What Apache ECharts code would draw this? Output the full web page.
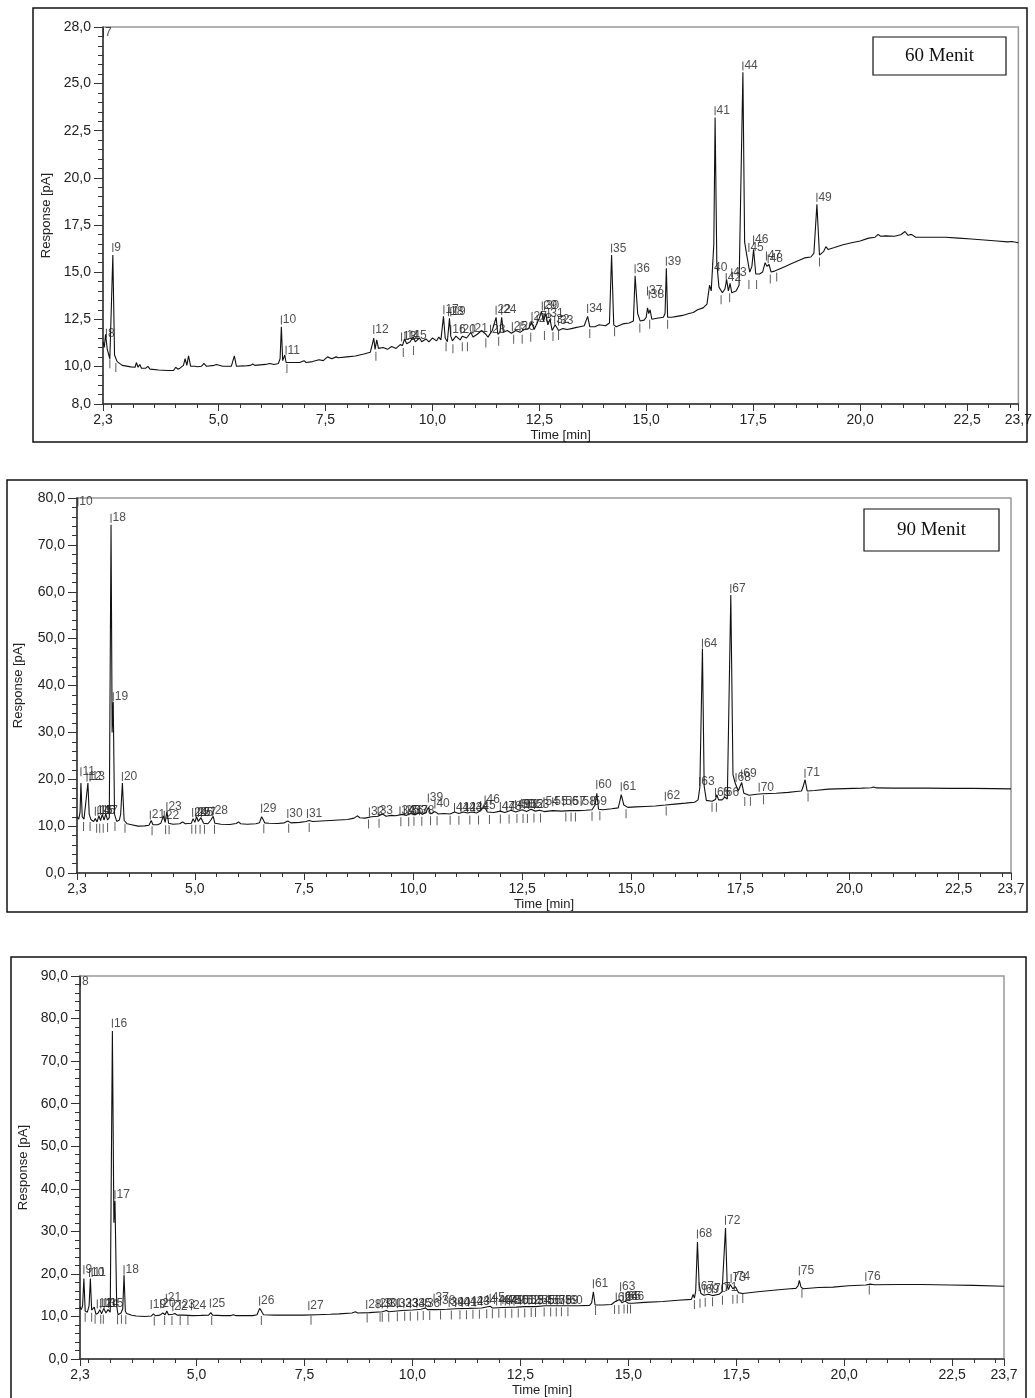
<!DOCTYPE html>
<html>
<head>
<meta charset="utf-8">
<title>Kromatogram</title>
<script src="https://cdn.jsdelivr.net/npm/echarts@6/dist/echarts.min.js"></script>
<style>
  html, body { margin: 0; padding: 0; background: #fff; }
  #chart { width: 1035px; height: 1398px; }
</style>
</head>
<body>
<div id="chart"></div>
<script>
// shared time axis
const timeMin = 2.3;
const timeMax = 23.7;
const timeLabels = [2.3, 5, 7.5, 10, 12.5, 15, 17.5, 20, 22.5, 23.7];

// response tick labels for each run
const respLabels60 = [8, 10, 12.5, 15, 17.5, 20, 22.5, 25, 28];
const respLabels90 = [0, 10, 20, 30, 40, 50, 60, 70, 80];
const respLabelsC = [0, 10, 20, 30, 40, 50, 60, 70, 80, 90];

// 60 Menit trace, [time min, response pA]
const trace60 = [
  [2.30, 11.3], [2.33, 11.0], [2.36, 11.7], [2.40, 10.9], [2.46, 10.4], [2.50, 10.5], [2.53, 15.9],
  [2.57, 10.6], [2.63, 10.25], [2.75, 10.05], [2.95, 9.97], [3.05, 9.95], [3.08, 10.2], [3.12, 9.95],
  [3.16, 10.1], [3.20, 9.9], [3.30, 9.9], [3.35, 10.0], [3.40, 9.85], [3.60, 9.8], [3.80, 9.78],
  [3.95, 9.78], [4.00, 9.95], [4.05, 9.85], [4.10, 9.9], [4.18, 10.05], [4.22, 10.4], [4.26, 10.05],
  [4.30, 10.55], [4.35, 10.0], [4.45, 10.0], [4.50, 9.98], [4.60, 10.0], [4.66, 10.15], [4.72, 10.0],
  [4.90, 10.05], [4.95, 10.1], [5.10, 10.0], [5.30, 10.0], [5.37, 10.55], [5.42, 10.0], [5.60, 10.02],
  [5.75, 10.05], [5.80, 10.12], [5.85, 10.05], [6.10, 10.1], [6.20, 10.15], [6.30, 10.1], [6.40, 10.15],
  [6.44, 10.4], [6.47, 12.1], [6.50, 10.3], [6.55, 10.6], [6.58, 10.2], [6.70, 10.2], [6.90, 10.2],
  [7.00, 10.3], [7.05, 10.2], [7.20, 10.25], [7.35, 10.35], [7.45, 10.3], [7.55, 10.5], [7.65, 10.4],
  [7.75, 10.5], [7.80, 10.45], [8.00, 10.5], [8.20, 10.55], [8.40, 10.65], [8.55, 10.75], [8.60, 11.2],
  [8.63, 11.5], [8.66, 10.9], [8.70, 11.4], [8.74, 10.95], [8.85, 11.0], [8.95, 10.9], [9.05, 11.05],
  [9.15, 10.95], [9.25, 11.15], [9.30, 11.1], [9.35, 11.45], [9.40, 11.2], [9.48, 11.3], [9.55, 11.55],
  [9.60, 11.3], [9.70, 11.5], [9.75, 11.3], [9.85, 11.45], [9.92, 11.3], [10.00, 11.5], [10.10, 11.35],
  [10.15, 11.55], [10.20, 11.4], [10.26, 12.65], [10.30, 11.5], [10.35, 11.3], [10.40, 12.55],
  [10.43, 11.6], [10.47, 11.35], [10.55, 11.6], [10.65, 11.4], [10.70, 11.6], [10.80, 11.5],
  [10.90, 11.8], [10.95, 11.55], [11.05, 11.7], [11.15, 11.9], [11.25, 11.7], [11.30, 11.55],
  [11.40, 11.9], [11.49, 12.6], [11.53, 11.7], [11.58, 11.8], [11.62, 12.6], [11.66, 11.8],
  [11.75, 11.9], [11.85, 11.75], [11.95, 11.9], [12.05, 11.8], [12.15, 11.95], [12.25, 12.0],
  [12.32, 12.35], [12.38, 11.95], [12.45, 12.3], [12.50, 12.55], [12.55, 12.9], [12.60, 12.4],
  [12.65, 12.8], [12.70, 12.2], [12.75, 12.5], [12.80, 11.9], [12.87, 12.2], [12.95, 11.9],
  [13.05, 12.0], [13.15, 11.95], [13.25, 12.0], [13.35, 12.05], [13.45, 12.1], [13.55, 12.15],
  [13.63, 12.65], [13.68, 12.1], [13.80, 12.1], [13.90, 12.2], [14.05, 12.15], [14.14, 12.3],
  [14.19, 15.9], [14.24, 12.2], [14.30, 12.1], [14.45, 12.25], [14.60, 12.3], [14.70, 12.4],
  [14.74, 14.8], [14.80, 12.8], [14.86, 12.4], [14.95, 12.45], [15.00, 12.6], [15.03, 13.1],
  [15.06, 12.8], [15.09, 13.0], [15.13, 12.5], [15.25, 12.55], [15.40, 12.6], [15.44, 12.8],
  [15.47, 15.2], [15.50, 12.6], [15.60, 12.6], [15.72, 12.65], [15.85, 12.7], [16.00, 12.8],
  [16.10, 12.85], [16.20, 13.0], [16.33, 13.1], [16.42, 13.3], [16.48, 14.3], [16.52, 14.0],
  [16.58, 16.5], [16.61, 23.2], [16.65, 15.5], [16.70, 14.2], [16.78, 13.9], [16.84, 14.1],
  [16.88, 14.6], [16.92, 14.0], [16.96, 14.4], [17.00, 13.9], [17.10, 14.0], [17.17, 14.3],
  [17.26, 25.6], [17.30, 16.6], [17.35, 15.9], [17.42, 15.0], [17.47, 15.3], [17.51, 16.2],
  [17.56, 14.9], [17.65, 14.9], [17.72, 15.0], [17.78, 15.5], [17.82, 15.3], [17.87, 15.4],
  [17.92, 15.0], [18.00, 15.05], [18.10, 15.15], [18.25, 15.3], [18.40, 15.45], [18.55, 15.6],
  [18.70, 15.75], [18.85, 15.8], [18.92, 16.0], [18.99, 18.6], [19.05, 15.9], [19.15, 16.1],
  [19.20, 16.35], [19.25, 16.2], [19.40, 16.3], [19.60, 16.45], [19.80, 16.55], [20.00, 16.65],
  [20.20, 16.8], [20.35, 16.85], [20.42, 17.0], [20.48, 16.9], [20.60, 16.92], [20.80, 16.9],
  [20.95, 16.98], [21.05, 17.15], [21.12, 16.95], [21.20, 17.0], [21.30, 16.85], [21.50, 16.85],
  [21.80, 16.85], [22.00, 16.85], [22.30, 16.8], [22.60, 16.75], [22.90, 16.7], [23.20, 16.65],
  [23.45, 16.6], [23.55, 16.62], [23.70, 16.55]
];

// 60 Menit peak numbers, [time, label height, number]
const peaks60 = [
  [2.31, 27.7, '7'], [2.38, 11.75, '8'], [2.53, 16.3, '9'], [6.47, 12.45, '10'], [6.58, 10.85, '11'],
  [8.63, 11.95, '12'], [9.28, 11.55, '13'], [9.36, 11.6, '14'], [9.52, 11.65, '15'], [10.43, 11.95, '16'],
  [10.27, 13.0, '17'], [10.38, 12.9, '18'], [10.43, 12.9, '19'], [10.67, 11.95, '20'], [10.95, 11.98, '21'],
  [11.49, 12.98, '22'], [11.36, 11.96, '23'], [11.62, 12.98, '24'], [11.87, 12.1, '25'], [12.05, 12.1, '26'],
  [12.33, 12.64, '27'], [12.45, 12.5, '28'], [12.57, 13.2, '29'], [12.62, 13.2, '30'], [12.72, 12.8, '31'],
  [12.86, 12.45, '32'], [12.95, 12.4, '33'], [13.63, 13.07, '34'], [14.19, 16.26, '35'], [14.74, 15.17, '36'],
  [15.03, 14.0, '37'], [15.07, 13.8, '38'], [15.47, 15.57, '39'], [16.55, 15.24, '40'], [16.61, 23.56, '41'],
  [16.87, 14.71, '42'], [17.0, 14.96, '43'], [17.26, 25.93, '44'], [17.4, 16.3, '45'], [17.51, 16.7, '46'],
  [17.81, 15.85, '47'], [17.85, 15.7, '48'], [18.99, 18.97, '49']
];

// 60 Menit integration marks under the trace, [time, response]
const cuts60 = [
  [2.46, 10.4], [2.6, 10.2], [6.6, 10.15], [8.68, 10.8], [9.32, 11.0], [9.56, 11.1], [10.32, 11.3],
  [10.48, 11.2], [10.7, 11.3], [10.82, 11.3], [11.25, 11.5], [11.55, 11.6], [11.9, 11.7], [12.1, 11.7],
  [12.3, 11.8], [12.62, 11.9], [12.82, 11.85], [12.95, 11.9], [13.68, 12.0], [14.26, 12.1], [14.85, 12.3],
  [15.08, 12.5], [15.5, 12.5], [16.75, 13.8], [16.95, 13.9], [17.4, 14.6], [17.58, 14.6], [17.9, 14.9],
  [18.05, 15.0], [19.05, 15.8]
];

// 90 Menit trace
const trace90 = [
  [2.30, 12.0], [2.34, 11.5], [2.37, 13.0], [2.39, 19.2], [2.42, 12.0], [2.46, 11.5], [2.50, 11.8],
  [2.55, 19.2], [2.58, 12.5], [2.62, 11.4], [2.68, 11.0], [2.72, 11.6], [2.76, 10.9], [2.80, 12.2],
  [2.84, 11.2], [2.88, 12.5], [2.92, 11.3], [2.96, 12.6], [3.00, 11.3], [3.04, 11.8], [3.08, 74.3],
  [3.105, 30.0], [3.13, 36.5], [3.16, 12.5], [3.21, 11.0], [3.27, 11.3], [3.30, 12.5], [3.34, 19.2],
  [3.38, 11.2], [3.45, 10.5], [3.55, 10.3], [3.70, 10.0], [3.85, 10.05], [3.95, 10.2], [4.00, 11.2],
  [4.04, 10.3], [4.15, 10.3], [4.22, 10.6], [4.28, 12.2], [4.32, 10.8], [4.36, 13.1], [4.40, 10.6],
  [4.50, 10.4], [4.65, 10.5], [4.72, 10.9], [4.78, 10.5], [4.92, 10.6], [4.96, 11.6], [5.00, 10.8],
  [5.04, 12.0], [5.08, 11.0], [5.14, 11.8], [5.20, 10.6], [5.30, 10.5], [5.36, 11.2], [5.42, 12.1],
  [5.46, 10.6], [5.60, 10.4], [5.80, 10.35], [5.95, 10.55], [6.00, 10.9], [6.05, 10.5], [6.20, 10.4],
  [6.40, 10.5], [6.48, 10.7], [6.53, 12.0], [6.56, 11.5], [6.60, 10.7], [6.70, 10.6], [6.90, 10.55],
  [7.05, 10.7], [7.13, 11.1], [7.20, 10.7], [7.40, 10.8], [7.55, 11.0], [7.62, 11.2], [7.70, 11.0],
  [7.90, 11.1], [8.10, 11.2], [8.30, 11.3], [8.50, 11.4], [8.65, 11.7], [8.72, 12.2], [8.78, 11.8],
  [8.90, 11.7], [9.05, 12.0], [9.20, 12.1], [9.30, 12.6], [9.38, 12.1], [9.50, 12.3], [9.60, 12.2],
  [9.75, 12.5], [9.85, 12.3], [9.95, 12.7], [10.05, 12.4], [10.15, 12.9], [10.22, 12.5], [10.30, 13.0],
  [10.35, 14.0], [10.40, 12.6], [10.50, 13.1], [10.58, 12.6], [10.70, 12.7], [10.85, 12.6], [10.95, 13.0],
  [11.05, 12.7], [11.15, 13.0], [11.25, 12.8], [11.35, 13.0], [11.45, 12.8], [11.55, 13.3], [11.63, 14.3],
  [11.70, 13.0], [11.85, 12.9], [12.00, 13.2], [12.10, 12.9], [12.25, 13.4], [12.35, 13.0], [12.50, 13.5],
  [12.60, 13.1], [12.70, 13.6], [12.80, 13.2], [12.90, 13.4], [13.00, 13.1], [13.20, 13.3], [13.40, 13.2],
  [13.60, 13.3], [13.79, 13.3], [13.95, 13.4], [14.10, 13.5], [14.17, 14.5], [14.21, 17.0], [14.25, 13.6],
  [14.35, 13.5], [14.55, 13.7], [14.70, 13.9], [14.73, 15.0], [14.77, 16.7], [14.83, 14.5], [14.92, 14.0],
  [15.10, 14.1], [15.32, 14.2], [15.55, 14.3], [15.78, 14.5], [16.00, 14.7], [16.24, 14.9], [16.45, 15.1],
  [16.53, 15.6], [16.57, 18.2], [16.63, 47.9], [16.67, 18.5], [16.72, 15.5], [16.85, 15.3], [16.93, 15.7],
  [16.96, 16.7], [17.00, 15.6], [17.08, 15.6], [17.14, 16.2], [17.20, 15.8], [17.28, 59.3], [17.33, 21.0],
  [17.38, 19.2], [17.45, 17.5], [17.53, 19.3], [17.58, 17.0], [17.70, 16.6], [17.87, 16.8], [18.02, 16.9],
  [18.32, 17.0], [18.60, 17.2], [18.78, 17.4], [18.90, 17.5], [18.94, 18.5], [18.98, 19.9], [19.03, 17.5],
  [19.20, 17.6], [19.52, 17.9], [19.90, 18.0], [20.28, 18.1], [20.50, 18.2], [20.55, 18.35], [20.62, 18.15],
  [21.00, 18.1], [21.50, 18.1], [21.80, 18.1], [22.30, 18.05], [22.80, 18.05], [23.30, 18.0], [23.70, 17.95]
];

const peaks90 = [
  [2.32, 79.2, '10'], [2.39, 21.6, '11'], [2.53, 20.5, '12'], [2.6, 20.5, '13'], [2.72, 13.2, '14'],
  [2.78, 13.2, '15'], [2.84, 13.4, '16'], [2.9, 13.4, '17'], [3.08, 75.7, '18'], [3.13, 37.6, '19'],
  [3.34, 20.6, '20'], [3.98, 12.4, '21'], [4.3, 12.3, '22'], [4.36, 14.2, '23'], [4.95, 12.9, '24'],
  [5.02, 12.9, '25'], [5.08, 12.9, '26'], [5.15, 12.9, '27'], [5.42, 13.3, '28'], [6.53, 13.8, '29'],
  [7.13, 12.7, '30'], [7.58, 12.7, '31'], [9.0, 13.0, '32'], [9.2, 13.2, '33'], [9.7, 13.3, '34'],
  [9.8, 13.3, '35'], [9.9, 13.3, '36'], [10.0, 13.3, '37'], [10.15, 13.3, '38'], [10.35, 16.0, '39'],
  [10.5, 14.7, '40'], [10.95, 14.0, '41'], [11.1, 14.0, '42'], [11.25, 14.0, '43'], [11.4, 14.0, '44'],
  [11.55, 14.4, '45'], [11.65, 15.6, '46'], [12.0, 14.2, '47'], [12.15, 14.2, '48'], [12.35, 14.6, '49'],
  [12.45, 14.6, '50'], [12.55, 14.6, '51'], [12.65, 14.6, '52'], [12.78, 14.6, '53'], [13.0, 15.2, '54'],
  [13.2, 15.2, '55'], [13.45, 15.2, '56'], [13.62, 15.3, '57'], [13.85, 15.3, '58'], [14.1, 15.3, '59'],
  [14.21, 18.9, '60'], [14.77, 18.4, '61'], [15.78, 16.4, '62'], [16.57, 19.5, '63'], [16.63, 49.0, '64'],
  [16.93, 17.2, '65'], [17.13, 17.2, '66'], [17.28, 60.7, '67'], [17.4, 20.4, '68'], [17.53, 21.1, '69'],
  [17.93, 18.3, '70'], [18.98, 21.3, '71']
];

const cuts90 = [
  [2.45, 11.0], [2.6, 11.0], [2.75, 10.6], [2.82, 10.6], [2.9, 10.6], [3.0, 10.8], [3.17, 11.0],
  [3.4, 10.6], [4.02, 10.1], [4.33, 10.3], [4.41, 10.3], [4.93, 10.4], [5.02, 10.4], [5.12, 10.4],
  [5.22, 10.4], [5.45, 10.4], [6.58, 10.5], [7.15, 10.6], [7.62, 10.8], [8.98, 11.5], [9.22, 11.7],
  [9.72, 12.0], [9.9, 12.0], [10.02, 12.1], [10.2, 12.1], [10.4, 12.2], [10.55, 12.2], [10.85, 12.3],
  [11.05, 12.3], [11.3, 12.4], [11.5, 12.4], [11.75, 12.5], [12.0, 12.6], [12.2, 12.6], [12.38, 12.7],
  [12.52, 12.7], [12.62, 12.7], [12.77, 12.8], [12.92, 12.8], [13.5, 13.0], [13.62, 13.0],
  [13.72, 13.0], [14.1, 13.2], [14.28, 13.3], [14.88, 13.7], [15.8, 14.3], [16.85, 15.1], [16.95, 15.1],
  [17.6, 16.3], [17.73, 16.4], [18.03, 16.7], [19.05, 17.3]
];

// third run trace
const traceC = [
  [2.30, 12.3], [2.33, 11.6], [2.36, 12.5], [2.39, 18.9], [2.42, 11.3], [2.47, 11.0], [2.51, 12.5],
  [2.54, 18.9], [2.57, 11.5], [2.60, 11.2], [2.63, 12.2], [2.67, 10.5], [2.72, 10.8], [2.76, 11.6],
  [2.80, 10.6], [2.85, 11.9], [2.90, 10.8], [2.95, 11.6], [3.00, 11.0], [3.05, 77.1], [3.085, 32.0],
  [3.11, 37.2], [3.15, 12.5], [3.18, 10.4], [3.25, 10.8], [3.29, 11.8], [3.32, 19.8], [3.35, 11.2],
  [3.38, 10.7], [3.50, 10.3], [3.60, 10.1], [3.80, 10.0], [3.95, 10.1], [4.00, 10.6], [4.05, 10.15],
  [4.15, 10.3], [4.22, 10.8], [4.27, 10.4], [4.31, 11.3], [4.35, 10.4], [4.45, 10.5], [4.50, 10.7],
  [4.55, 10.3], [4.70, 10.3], [4.90, 10.2], [5.10, 10.25], [5.28, 10.3], [5.33, 10.9], [5.37, 10.3],
  [5.60, 10.2], [5.80, 10.2], [5.85, 10.4], [5.90, 10.2], [6.10, 10.2], [6.30, 10.2], [6.40, 10.4],
  [6.46, 11.9], [6.50, 11.3], [6.55, 10.4], [6.80, 10.3], [7.08, 10.3], [7.47, 10.3], [7.80, 10.4],
  [8.10, 10.5], [8.30, 10.6], [8.60, 10.8], [8.68, 11.1], [8.73, 10.8], [9.00, 10.9], [9.30, 11.1],
  [9.40, 11.4], [9.45, 11.1], [9.77, 11.4], [10.00, 11.5], [10.20, 11.7], [10.30, 12.0], [10.35, 11.6],
  [10.54, 11.6], [10.80, 11.7], [11.00, 11.8], [11.31, 11.9], [11.60, 12.0], [11.80, 12.4], [11.85, 12.0],
  [12.08, 12.1], [12.40, 12.2], [12.60, 12.3], [12.85, 12.3], [13.07, 12.5], [13.40, 12.5], [13.84, 12.5],
  [14.10, 12.6], [14.15, 13.2], [14.19, 15.8], [14.23, 12.7], [14.40, 12.7], [14.61, 12.8], [14.68, 13.4],
  [14.72, 13.0], [14.80, 14.0], [14.85, 13.2], [14.92, 13.6], [15.00, 13.1], [15.10, 13.1], [15.38, 13.3],
  [15.80, 13.5], [16.15, 13.8], [16.46, 14.0], [16.50, 15.2], [16.53, 14.3], [16.56, 16.0], [16.60, 27.5],
  [16.64, 17.4], [16.68, 15.4], [16.75, 15.0], [16.85, 15.2], [16.95, 14.9], [17.10, 15.2], [17.17, 15.8],
  [17.25, 30.8], [17.29, 17.2], [17.32, 16.3], [17.36, 17.5], [17.42, 16.5], [17.48, 17.0], [17.55, 15.6],
  [17.65, 15.4], [18.00, 15.8], [18.42, 16.2], [18.75, 16.5], [18.88, 16.6], [18.93, 17.2], [18.96, 18.5],
  [19.00, 16.9], [19.05, 16.5], [19.40, 16.8], [19.74, 16.9], [20.10, 17.2], [20.50, 17.4], [20.60, 17.6],
  [20.70, 17.45], [21.27, 17.5], [21.80, 17.5], [22.43, 17.4], [23.00, 17.3], [23.70, 17.1]
];

const peaksC = [
  [2.31, 88.6, '8'], [2.39, 21.0, '9'], [2.52, 20.3, '10'], [2.58, 20.3, '11'], [2.7, 12.9, '12'],
  [2.78, 12.9, '13'], [2.86, 12.9, '14'], [2.96, 13.1, '15'], [3.05, 78.9, '16'], [3.11, 38.6, '17'],
  [3.32, 21.0, '18'], [3.95, 12.8, '19'], [4.17, 13.0, '20'], [4.3, 14.3, '21'], [4.45, 12.3, '22'],
  [4.62, 12.8, '23'], [4.88, 12.5, '24'], [5.32, 13.1, '25'], [6.46, 13.6, '26'], [7.6, 12.5, '27'],
  [8.94, 12.8, '28'], [9.2, 12.9, '29'], [9.3, 12.9, '30'], [9.42, 12.9, '31'], [9.65, 13.0, '32'],
  [9.8, 13.0, '33'], [9.95, 13.0, '34'], [10.1, 13.1, '35'], [10.3, 13.1, '36'], [10.5, 14.3, '37'],
  [10.65, 13.6, '38'], [10.85, 13.3, '39'], [11.0, 13.3, '40'], [11.15, 13.3, '41'], [11.3, 13.4, '42'],
  [11.45, 13.4, '43'], [11.6, 13.6, '44'], [11.8, 14.3, '45'], [11.95, 13.6, '46'], [12.05, 13.6, '47'],
  [12.15, 13.6, '48'], [12.25, 13.6, '49'], [12.35, 13.6, '50'], [12.5, 13.8, '51'], [12.6, 13.8, '52'],
  [12.7, 13.8, '53'], [12.85, 13.8, '54'], [12.95, 13.8, '55'], [13.1, 13.8, '56'], [13.2, 13.8, '57'],
  [13.35, 13.8, '58'], [13.5, 13.8, '59'], [13.6, 13.8, '60'], [14.19, 17.7, '61'], [14.72, 14.5, '62'],
  [14.82, 17.0, '63'], [14.88, 14.6, '64'], [14.95, 14.6, '65'], [15.02, 14.6, '66'], [16.64, 17.0, '67'],
  [16.6, 29.4, '68'], [16.76, 16.4, '69'], [16.95, 16.5, '70'], [17.18, 16.8, '71'], [17.25, 32.6, '72'],
  [17.38, 19.0, '73'], [17.48, 19.3, '74'], [18.96, 20.7, '75'], [20.5, 19.3, '76']
];

const cutsC = [
  [2.42, 11.0], [2.57, 11.0], [2.65, 10.5], [2.78, 10.5], [2.84, 10.5], [3.17, 10.4], [3.26, 10.5],
  [3.36, 10.4], [4.02, 10.1], [4.26, 10.2], [4.43, 10.2], [4.62, 10.2], [4.8, 10.2], [5.35, 10.2],
  [6.5, 10.2], [7.65, 10.3], [8.95, 10.8], [9.25, 11.0], [9.3, 11.0], [9.45, 11.0], [9.65, 11.1],
  [9.82, 11.2], [9.95, 11.2], [10.12, 11.3], [10.25, 11.4], [10.4, 11.4], [10.65, 11.5], [10.9, 11.5],
  [11.1, 11.6], [11.25, 11.6], [11.4, 11.7], [11.55, 11.7], [11.72, 11.8], [11.85, 11.8], [12.0, 11.9],
  [12.15, 11.9], [12.3, 11.9], [12.45, 12.0], [12.6, 12.0], [12.75, 12.1], [12.85, 12.1], [13.05, 12.2],
  [13.2, 12.2], [13.33, 12.2], [13.45, 12.3], [13.6, 12.3], [14.24, 12.6], [14.68, 12.8], [14.78, 12.8],
  [14.9, 12.9], [14.98, 12.9], [15.05, 12.9], [16.53, 14.0], [16.66, 14.3], [16.78, 14.5], [16.95, 14.6],
  [17.18, 15.0], [17.42, 15.2], [17.52, 15.3], [17.65, 15.4], [19.02, 16.6], [20.58, 17.4]
];

function steps(from, to, step) {
  const out = [];
  for (let v = from; v <= to + 1e-9; v += step) out.push(Math.round(v * 100) / 100);
  return out;
}

function fmt(v) {
  return v.toFixed(1).replace('.', ',');
}

const sans = 'Liberation Sans, Arial, sans-serif';

// layout of each panel on the page
const panels = [
  { left: 103, top: 27, width: 917, height: 377, yMin: 8, yMax: 28, yLabels: respLabels60,
    yMinor: steps(8, 28, 0.5), nameGap: 50, trace: trace60, peaks: peaks60, cuts: cuts60 },
  { left: 77, top: 498, width: 934, height: 375, yMin: 0, yMax: 80, yLabels: respLabels90,
    yMinor: steps(0, 80, 2), nameGap: 52, trace: trace90, peaks: peaks90, cuts: cuts90 },
  { left: 80, top: 976, width: 924, height: 385, yMin: 0, yMax: 90, yLabels: respLabelsC,
    yMinor: steps(0, 90, 2), nameGap: 50, trace: traceC, peaks: peaksC, cuts: cutsC }
];

const xMinor = steps(2.5, 23.5, 0.5);

let grids = [], xAxes = [], yAxes = [], series = [];

panels.forEach((p, i) => {
  grids.push({
    left: p.left, top: p.top, width: p.width, height: p.height,
    show: true, borderColor: '#999', borderWidth: 1.5
  });

  xAxes.push({
    type: 'value', gridIndex: i, position: 'bottom', min: timeMin, max: timeMax,
    name: 'Time [min]', nameLocation: 'middle', nameGap: 25,
    nameTextStyle: { fontFamily: sans, fontSize: 13, color: '#222' },
    axisLine: { show: true, onZero: false, lineStyle: { color: '#333', width: 1.5 } },
    axisTick: { show: true, customValues: timeLabels, length: 7, lineStyle: { color: '#333' } },
    axisLabel: { customValues: timeLabels, formatter: fmt, fontFamily: sans, fontSize: 14,
                 color: '#222', margin: 9 },
    splitLine: { show: false }
  });
  xAxes.push({
    type: 'value', gridIndex: i, position: 'bottom', min: timeMin, max: timeMax,
    axisLine: { show: false, onZero: false },
    axisTick: { show: true, customValues: xMinor, length: 4, lineStyle: { color: '#333' } },
    axisLabel: { show: false }, splitLine: { show: false }
  });

  yAxes.push({
    type: 'value', gridIndex: i, position: 'left', min: p.yMin, max: p.yMax,
    name: 'Response [pA]', nameLocation: 'middle', nameGap: p.nameGap,
    nameTextStyle: { fontFamily: sans, fontSize: 13, color: '#222' },
    axisLine: { show: true, onZero: false, lineStyle: { color: '#333', width: 1.5 } },
    axisTick: { show: true, customValues: p.yLabels, length: 9, lineStyle: { color: '#333' } },
    axisLabel: { customValues: p.yLabels, formatter: fmt, fontFamily: sans, fontSize: 14,
                 color: '#222', margin: 12 },
    splitLine: { show: false }
  });
  yAxes.push({
    type: 'value', gridIndex: i, position: 'left', min: p.yMin, max: p.yMax,
    axisLine: { show: false, onZero: false },
    axisTick: { show: true, customValues: p.yMinor, length: 5, lineStyle: { color: '#333' } },
    axisLabel: { show: false }, splitLine: { show: false }
  });

  series.push({
    type: 'line', xAxisIndex: 2 * i, yAxisIndex: 2 * i, data: p.trace,
    showSymbol: false, symbol: 'none', lineStyle: { color: '#111', width: 1.1 },
    silent: true, z: 2
  });

  // integration cut marks hanging below the trace
  series.push({
    type: 'scatter', xAxisIndex: 2 * i, yAxisIndex: 2 * i, data: p.cuts,
    symbol: 'rect', symbolSize: [1, 9], symbolOffset: [0, 5],
    itemStyle: { color: '#333' }, silent: true, z: 1
  });

  series.push({
    type: 'scatter', xAxisIndex: 2 * i, yAxisIndex: 2 * i,
    data: p.peaks.map(([t, v, n]) => ({ value: [t, v], name: n })),
    symbol: 'rect', symbolSize: [1, 9], itemStyle: { color: '#222' },
    label: { show: true, position: 'right', distance: 1, formatter: '{b}',
             fontFamily: sans, fontSize: 12, color: '#222' },
    labelLayout: { hideOverlap: false }, silent: true, z: 3
  });
});

function menitBox(x, y, w, h, text) {
  return {
    type: 'group', children: [
      { type: 'rect', shape: { x: x, y: y, width: w, height: h },
        style: { fill: '#fff', stroke: '#111', lineWidth: 1.2 } },
      { type: 'text', x: x + w / 2, y: y + h / 2,
        style: { text: text, fontFamily: 'Liberation Serif, Times New Roman, serif', fontSize: 19,
                 fill: '#111', align: 'center', verticalAlign: 'middle' } }
    ]
  };
}

const frame = { fill: 'none', stroke: '#111', lineWidth: 1.5 };

const chart = echarts.init(document.getElementById('chart'), null, { renderer: 'canvas' });
chart.setOption({
  animation: false,
  backgroundColor: '#fff',
  grid: grids,
  xAxis: xAxes,
  yAxis: yAxes,
  series: series,
  graphic: [
    { type: 'rect', shape: { x: 33, y: 8, width: 994, height: 434 }, style: frame, z: 10 },
    { type: 'rect', shape: { x: 7, y: 480, width: 1020, height: 432 }, style: frame, z: 10 },
    { type: 'rect', shape: { x: 11, y: 957, width: 1015, height: 470 }, style: frame, z: 10 },
    menitBox(873, 37, 133, 38, '60 Menit'),
    menitBox(864, 509, 135, 42, '90 Menit')
  ]
});
</script>
</body>
</html>
